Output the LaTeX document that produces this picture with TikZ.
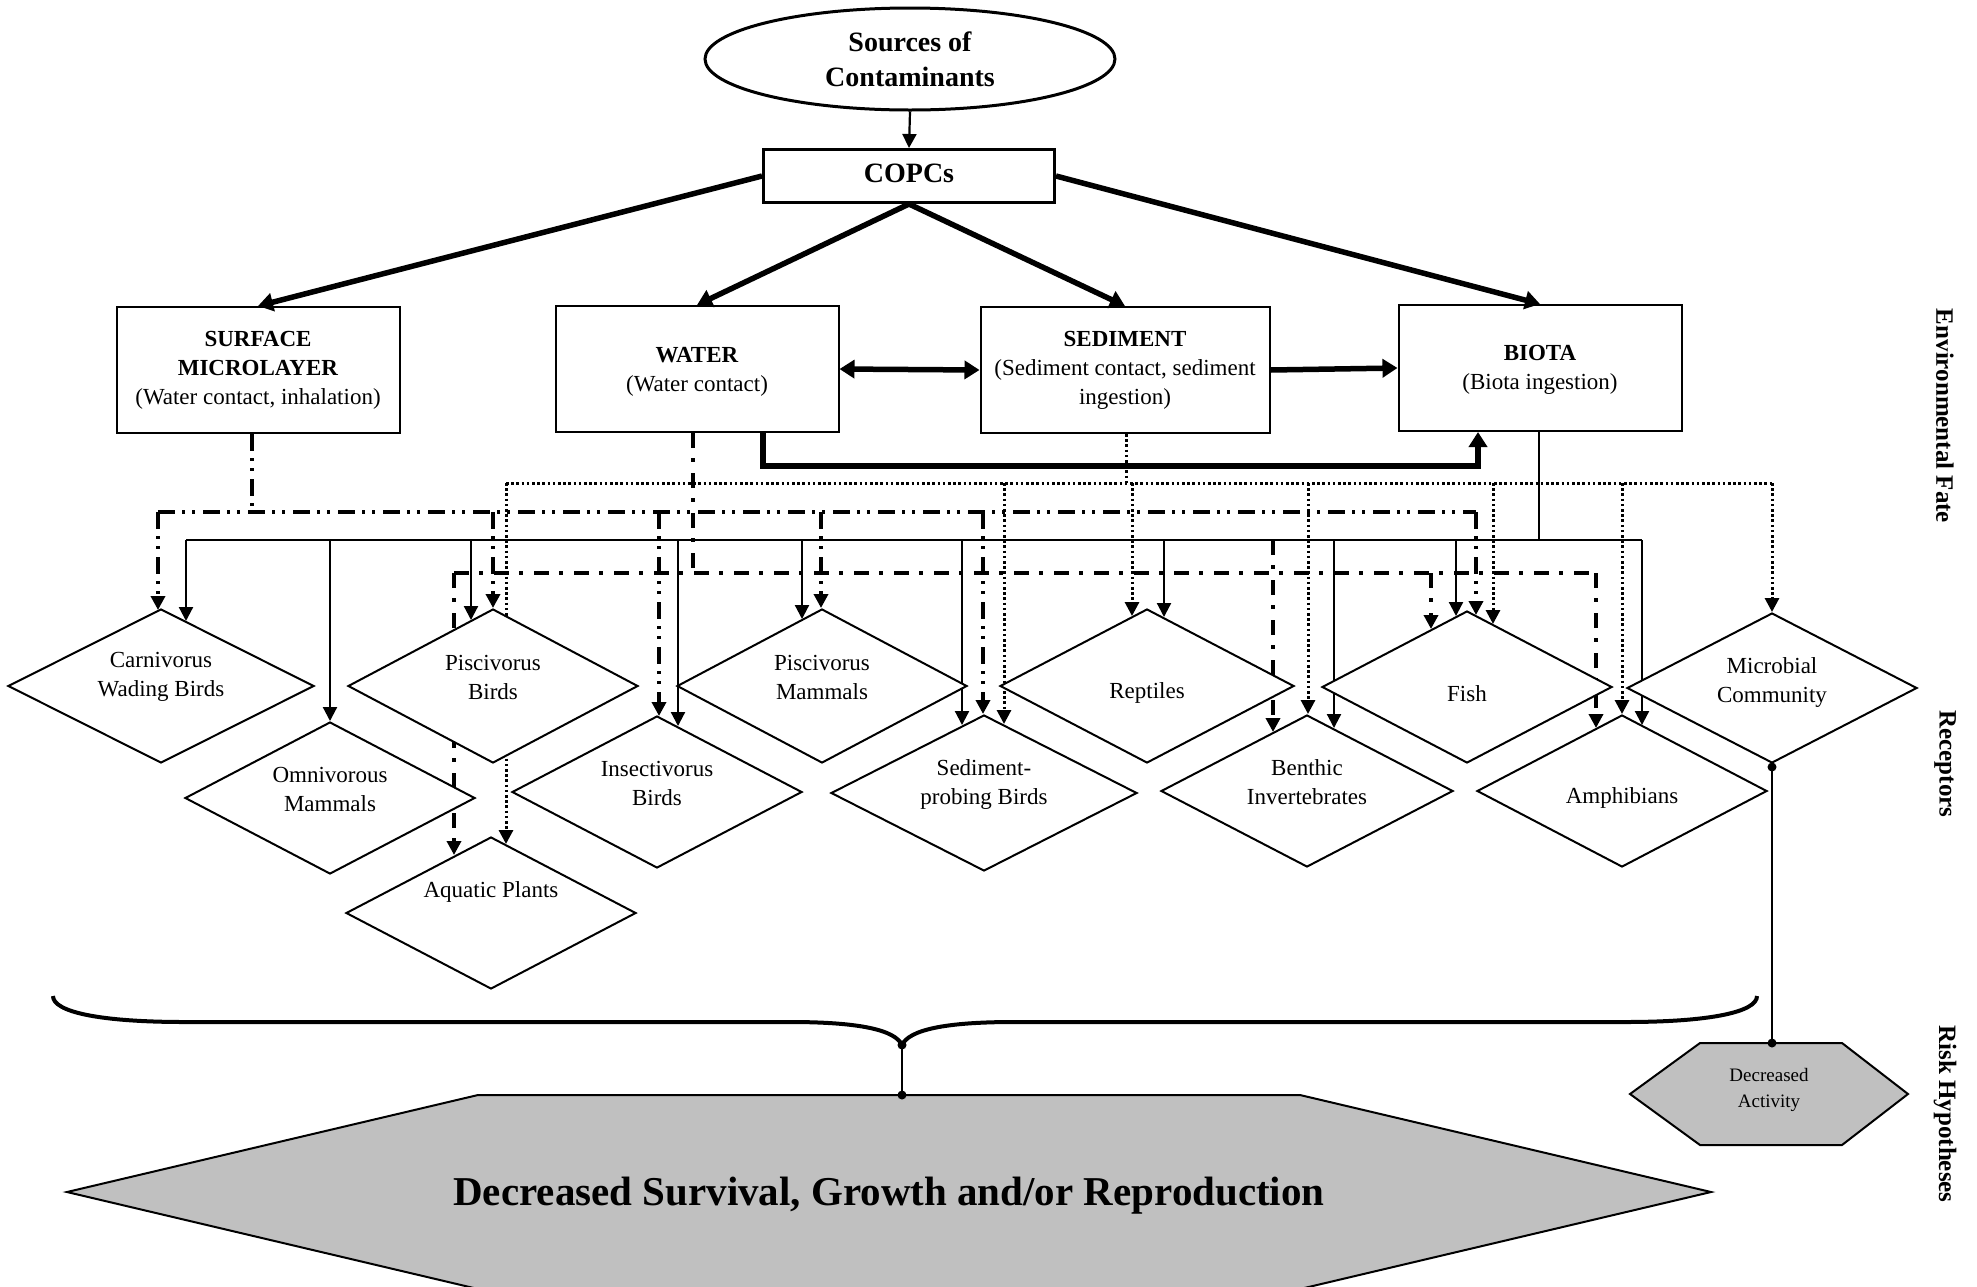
\documentclass[tikz,border=0pt]{standalone}
\usepackage{fontspec}
\setmainfont{Liberation Serif}
\usetikzlibrary{shapes.geometric,arrows.meta,calc,backgrounds}
\definecolor{hexgray}{HTML}{C0C0C0}
\newcommand\dropto[5]{\coordinate (dtmp) at ($(#3.north)+(#4,#5)$);\draw[#1] (dtmp |- #2) -- (dtmp);}
\newcommand\feedto[4]{\coordinate (ftmp) at ($(#2.south)+(#3,0)$);\draw[#1] (ftmp) -- (ftmp |- #4);}
\tikzset{
  box/.style={draw, line width=2pt, minimum width=283pt, minimum height=126pt, align=center, inner sep=0pt, font=\fontsize{23}{29}\selectfont},
  recep/.style={draw, diamond, aspect=1.9, line width=2pt, fill=white, minimum width=290pt, minimum height=152pt, inner sep=0pt},
  dtext/.style={font=\fontsize{23}{29}\selectfont, align=center, inner sep=0pt},
  tip/.style={-{Triangle[width=14pt,length=14pt]}},
  thickarr/.style={line width=5.5pt, -{Triangle[width=18pt,length=15pt]}},
  thinline/.style={line width=2.2pt},
  dda/.style={line width=3.6pt, dash pattern=on 17pt off 7pt on 3pt off 7pt on 3pt off 8pt},
  ddb/.style={line width=3.6pt, dash pattern=on 15pt off 10pt on 4pt off 11pt},
  dots/.style={line width=3pt, dash pattern=on 2.6pt off 2.6pt},
  side/.style={rotate=-90, font=\bfseries\fontsize{25}{30}\selectfont},
}
\begin{document}
\begin{tikzpicture}[x=1pt,y=-1pt]
\useasboundingbox (0,0) rectangle (1977,1286);

% ---- top level
\node[draw, ellipse, line width=3pt, minimum width=410pt, minimum height=102pt, align=center, font=\bfseries\fontsize{28}{35}\selectfont] (src) at (910,59) {Sources of\\Contaminants};
\node[draw, line width=3pt, minimum width=291pt, minimum height=53pt, inner sep=0pt, font=\bfseries\fontsize{28}{34}\selectfont, label={[font=\bfseries\fontsize{28}{34}\selectfont, yshift=3pt]center:COPCs}] (copcs) at (909,176) {};

\node[box] (surf) at (258,370) {\textbf{SURFACE}\\\textbf{MICROLAYER}\\(Water contact, inhalation)};
\node[box, label={[dtext, yshift=-3pt]center:\textbf{WATER}\\(Water contact)}] (water) at (697,369) {};
\node[box, minimum width=289pt] (sed) at (1125,370) {\textbf{SEDIMENT}\\(Sediment contact, sediment\\ingestion)};
\node[box, label={[dtext, yshift=-2pt]center:\textbf{BIOTA}\\(Biota ingestion)}] (biota) at (1540,368) {};

% ---- receptors
\node[recep, minimum width=306pt, minimum height=154pt, label={[dtext,yshift=9pt]center:Carnivorus\\Wading Birds}] (carn) at (161,686) {};
\node[recep, minimum height=154pt, label={[dtext,yshift=9pt]center:Piscivorus\\Birds}] (pbird) at (493,686) {};
\node[recep, label={[dtext,yshift=9pt]center:Omnivorous\\Mammals}] (omni) at (330,798) {};
\node[recep, label={[dtext,yshift=21pt]center:Aquatic Plants}] (aqua) at (491,913) {};
\node[recep, label={[dtext,yshift=9pt]center:Insectivorus\\Birds}] (insect) at (657,792) {};
\node[recep, minimum height=154pt, label={[dtext,yshift=9pt]center:Piscivorus\\Mammals}] (pmam) at (822,686) {};
\node[recep, minimum width=306pt, minimum height=156pt, label={[dtext,yshift=9pt]center:Sediment-\\probing Birds}] (sedb) at (984,793) {};
\node[recep, minimum width=294pt, minimum height=154pt, label={[dtext,yshift=-7pt]center:Reptiles}] (rept) at (1147,686) {};
\node[recep, minimum width=292pt, label={[dtext,yshift=9pt]center:Benthic\\Invertebrates}] (benth) at (1307,791) {};
\node[recep, label={[dtext,yshift=-7pt]center:Fish}] (fish) at (1467,687) {};
\node[recep, label={[dtext,yshift=-7pt]center:Amphibians}] (amph) at (1622,791) {};
\node[recep, minimum height=150pt, label={[dtext,yshift=6pt]center:Microbial\\Community}] (micro) at (1772,688) {};

% ---- side labels
\node[side] (lab1) at (1945,416) {Environmental Fate};
\node[side] (lab2) at (1945,764) {Receptors};
\node[side] (lab3) at (1945,1114) {Risk Hypotheses};

% ---- risk hypotheses
\filldraw[fill=hexgray, line width=2pt] (478,1095) -- (1300,1095) -- (1711,1192) -- (1300,1289) -- (478,1289) -- (67,1192) -- cycle;
\node[font=\bfseries\fontsize{41}{48}\selectfont] (dsg) at (889,1196) {Decreased Survival, Growth and/or Reproduction};
\filldraw[fill=hexgray, line width=2pt] (1700,1043) -- (1842,1043) -- (1908,1094) -- (1842,1145) -- (1700,1145) -- (1630,1094) -- cycle;
\node[align=center, font=\fontsize{19}{26}\selectfont] (act) at (1769,1090) {Decreased\\Activity};

% brace
\draw[line width=4pt] (53,996) .. controls (53,1012) and (100,1022) .. (185,1022) -- (790,1022)
  .. controls (860,1022) and (895,1030) .. (902,1045)
  .. controls (909,1030) and (944,1022) .. (1014,1022) -- (1625,1022)
  .. controls (1710,1022) and (1757,1012) .. (1757,996);
\coordinate (btip) at (902,1045);
\coordinate (hextop) at (902,1095);
\coordinate (acttop) at (1772,1043);
\draw[thinline] (btip) -- (hextop);
\draw[thinline] (micro.south) -- (acttop);
\fill (btip) circle (4.5pt);
\fill (hextop) circle (4.5pt);
\fill (acttop) circle (4.5pt);
\fill ($(micro.south)+(0,3)$) circle (4.5pt);

% ---- connectors
\begin{pgfonlayer}{background}
\draw[thinline, tip] (src.south) -- (copcs.north);
\draw[thickarr] (copcs.west) -- (surf.north);
\draw[thickarr] (copcs.south) -- (water.north);
\draw[thickarr] (copcs.south) -- (sed.north);
\draw[thickarr] (copcs.east) -- (biota.north);
\draw[line width=5.5pt, {Triangle[width=18pt,length=15pt]}-{Triangle[width=18pt,length=15pt]}] (water.east) -- (sed.west);
\draw[thickarr] (sed.east) -- (biota.west);
\coordinate (bus1) at ($(water.south)+(66,0)$);
\coordinate (bus2) at ($(biota.south)+(-62,0)$);
\draw[thickarr] (bus1) -- ++(0,33) -| (bus2);

% rails
\coordinate (rDot) at (0,483);
\coordinate (rA) at (0,512);
\coordinate (rS) at (0,540);
\coordinate (rB) at (0,573);
\feedto{dda}{surf}{-6}{rA}
\feedto{ddb}{water}{-4}{rB}
\feedto{dots}{sed}{1}{rDot}
\feedto{thinline}{biota}{-1}{rS}
\draw[dots] (506,483) -- (1772,483);
\draw[dda] (158,512) -- (1476,512);
\draw[thinline] (186,540) -- (1642,540);
\draw[ddb] (454,573) -- (1596,573);

% drops
\dropto{dda,tip}{rA}{carn}{-3}{2}
\dropto{thinline,tip}{rS}{carn}{25}{13}
\dropto{thinline,tip}{rS}{omni}{0}{0}
\dropto{thinline,tip}{rS}{pbird}{-22}{12}
\dropto{dda,tip}{rA}{pbird}{0}{0}
\dropto{ddb,tip}{rB}{aqua}{-37}{19}
\dropto{dots,tip}{rDot}{aqua}{15}{8}
\dropto{dda,tip}{rA}{insect}{2}{1}
\dropto{thinline,tip}{rS}{insect}{21}{11}
\dropto{thinline,tip}{rS}{pmam}{-20}{11}
\dropto{dda,tip}{rA}{pmam}{-1}{0}
\dropto{thinline,tip}{rS}{sedb}{-22}{11}
\dropto{dda,tip}{rA}{sedb}{-1}{0}
\dropto{dots,tip}{rDot}{sedb}{20}{10}
\dropto{dots,tip}{rDot}{rept}{-15}{8}
\dropto{thinline,tip}{rS}{rept}{17}{9}
\dropto{ddb,tip}{rS}{benth}{-34}{18}
\dropto{dots,tip}{rDot}{benth}{1}{0}
\dropto{thinline,tip}{rS}{benth}{27}{14}
\dropto{ddb,tip}{rB}{fish}{-36}{19}
\dropto{thinline,tip}{rS}{fish}{-11}{6}
\dropto{dda,tip}{rA}{fish}{9}{5}
\dropto{dots,tip}{rDot}{fish}{26}{14}
\dropto{ddb,tip}{rB}{amph}{-26}{14}
\dropto{dots,tip}{rDot}{amph}{0}{0}
\dropto{thinline,tip}{rS}{amph}{20}{11}
\dropto{dots,tip}{rDot}{micro}{0}{0}
\end{pgfonlayer}
\end{tikzpicture}
\end{document}
